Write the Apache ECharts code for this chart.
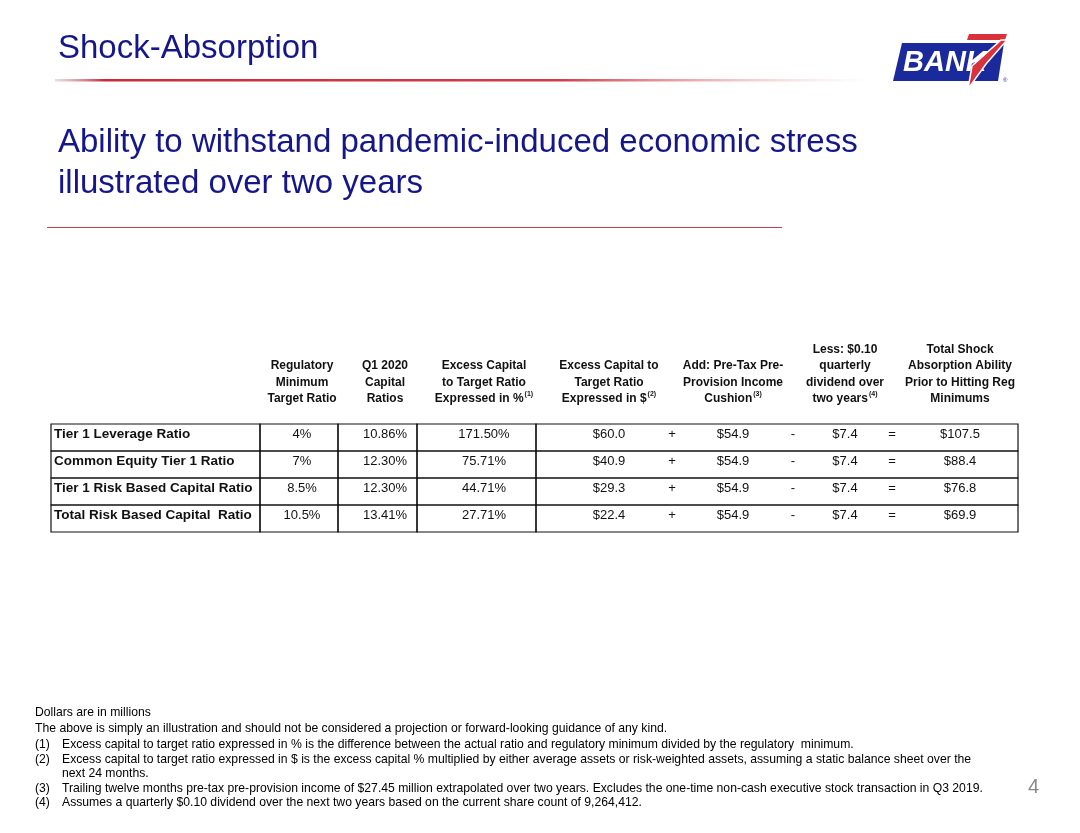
<!DOCTYPE html>
<html lang="en">
<head>
    <meta charset="UTF-8">
    <title>Shock-Absorption</title>
    <style>
        html, body { margin: 0; padding: 0; background: #fff; }
        #main { width: 1080px; height: 833px; }
    </style>
</head>
<body>
<div id="main"></div>
<script src="https://cdn.jsdelivr.net/npm/echarts@6/dist/echarts.min.js"></script>
<script>
    // table data
    const rowLabels = ['Tier 1 Leverage Ratio', 'Common Equity Tier 1 Ratio', 'Tier 1 Risk Based Capital Ratio', 'Total Risk Based Capital  Ratio'];
    const regMinimum = ['4%', '7%', '8.5%', '10.5%'];
    const q1Ratios = ['10.86%', '12.30%', '12.30%', '13.41%'];
    const excessPct = ['171.50%', '75.71%', '44.71%', '27.71%'];
    const excessDollar = [60.0, 40.9, 29.3, 22.4];
    const pretaxCushion = [54.9, 54.9, 54.9, 54.9];
    const dividendCost = [7.4, 7.4, 7.4, 7.4];
    const totalShock = [107.5, 88.4, 76.8, 69.9];

    // column headers (column index -> text), {s|..} = footnote mark
    const headerCols = [1, 2, 3, 4, 6, 8, 10];
    const headerTexts = [
        'Regulatory\nMinimum\nTarget Ratio',
        'Q1 2020\nCapital\nRatios',
        'Excess Capital\nto Target Ratio\nExpressed in %{s|(1)}',
        'Excess Capital to\nTarget Ratio\nExpressed in ${s|(2)}',
        'Add: Pre-Tax Pre-\nProvision Income\nCushion{s|(3)}',
        'Less: $0.10\nquarterly\ndividend over\ntwo years{s|(4)}',
        'Total Shock\nAbsorption Ability\nPrior to Hitting Reg\nMinimums'
    ];

    const footnotes = [
        ['', 'Dollars are in millions'],
        ['', 'The above is simply an illustration and should not be considered a projection or forward-looking guidance of any kind.'],
        ['(1)', 'Excess capital to target ratio expressed in % is the difference between the actual ratio and regulatory minimum divided by the regulatory  minimum.'],
        ['(2)', 'Excess capital to target ratio expressed in $ is the excess capital % multiplied by either average assets or risk-weighted assets, assuming a static balance sheet over the'],
        ['', 'next 24 months.'],
        ['(3)', 'Trailing twelve months pre-tax pre-provision income of $27.45 million extrapolated over two years. Excludes the one-time non-cash executive stock transaction in Q3 2019.'],
        ['(4)', 'Assumes a quarterly $0.10 dividend over the next two years based on the current share count of 9,264,412.']
    ];

    // layout (px from table left edge)
    const tableWidth = 967;
    const colEdges = [0, 209, 287, 366, 485, 967];
    const textX = [3, 251, 334, 433, 558, 621, 682, 742, 794, 841, 909];
    const FONT = 'Liberation Sans, Arial, sans-serif';
    const NAVY = '#15168a';

    // build cell list
    let cells = [];
    let cellTexts = [];
    function money(v) { return '$' + v.toFixed(1); }
    for (let i = 0; i < rowLabels.length; i++) {
        let row = [rowLabels[i], regMinimum[i], q1Ratios[i], excessPct[i], money(excessDollar[i]), '+',
            money(pretaxCushion[i]), '-', money(dividendCost[i]), '=', money(totalShock[i])];
        for (let c = 0; c < row.length; c++) {
            cells.push([c, i]);
            cellTexts.push(row[c]);
        }
    }

    let chart = echarts.init(document.getElementById('main'));

    // footnote graphics
    let noteEls = [];
    footnotes.forEach(function (f, i) {
        let y = [713, 729, 745, 760, 774, 789, 803][i];
        if (f[0]) {
            noteEls.push({type: 'text', x: 35, y: y, style: {text: f[0], font: '12.2px ' + FONT, fill: '#000', textVerticalAlign: 'middle', verticalAlign: 'middle'}});
        }
        noteEls.push({type: 'text', x: f[0] || i === 4 ? 62 : 35, y: y, style: {text: f[1], font: '12.2px ' + FONT, fill: '#000', textVerticalAlign: 'middle', verticalAlign: 'middle'}});
    });

    let option = {
        animation: false,
        backgroundColor: '#fff',
        grid: {left: 51, top: 424, width: tableWidth, height: 108},
        xAxis: {type: 'value', min: 0, max: tableWidth, show: false},
        yAxis: {type: 'category', data: rowLabels, inverse: true, show: false},
        graphic: [
            {type: 'text', x: 58, y: 49, style: {text: 'Shock-Absorption', font: '33px ' + FONT, fill: NAVY, textVerticalAlign: 'middle', verticalAlign: 'middle'}},
            {
                type: 'rect', shape: {x: 55, y: 79, width: 815, height: 2.5},
                style: {
                    fill: new echarts.graphic.LinearGradient(0, 0, 1, 0, [
                        {offset: 0, color: 'rgba(200,170,175,0.4)'},
                        {offset: 0.06, color: '#c82c39'},
                        {offset: 0.62, color: '#d23d48'},
                        {offset: 1, color: 'rgba(235,170,170,0)'}
                    ])
                }
            },
            {type: 'text', x: 58, y: 143, style: {text: 'Ability to withstand pandemic-induced economic stress', font: '33px ' + FONT, fill: NAVY, textVerticalAlign: 'middle', verticalAlign: 'middle'}},
            {type: 'text', x: 58, y: 184, style: {text: 'illustrated over two years', font: '33px ' + FONT, fill: NAVY, textVerticalAlign: 'middle', verticalAlign: 'middle'}},
            {type: 'rect', shape: {x: 47, y: 227, width: 735, height: 1}, style: {fill: '#c4404d'}},
            // logo
            {type: 'polygon', shape: {points: [[902, 43], [1004, 43], [998, 81], [893, 81]]}, style: {fill: '#1a2a9c'}},
            {type: 'text', x: 903, y: 63, style: {text: 'BANK', font: 'italic bold 29px ' + FONT, fill: '#fff', textVerticalAlign: 'middle', verticalAlign: 'middle'}},
            {type: 'polygon', shape: {points: [[969, 34], [1007, 34], [1005, 40], [967, 40]]}, style: {fill: '#d9323c'}},
            {type: 'polygon', shape: {points: [[1001, 40], [1007, 40], [986, 64], [968, 89], [972, 66]]}, style: {fill: '#d9323c', stroke: '#fff', lineWidth: 1.5}},
            {type: 'text', x: 1003, y: 77, style: {text: '®', font: '6px ' + FONT, fill: '#1a2a9c'}},
            {type: 'text', x: 1028, y: 787, style: {text: '4', font: '20px ' + FONT, fill: '#888', textVerticalAlign: 'middle', verticalAlign: 'middle'}}
        ].concat(noteEls),
        series: [
            {
                // cell borders
                type: 'custom',
                silent: true,
                data: rowLabels.map(function (d, i) { return [0, i]; }),
                renderItem: function (params, api) {
                    let row = api.value(1);
                    let band = api.size([0, 1])[1];
                    let children = [];
                    for (let k = 0; k < colEdges.length - 1; k++) {
                        let a = api.coord([colEdges[k], row]);
                        let b = api.coord([colEdges[k + 1], row]);
                        children.push({
                            type: 'rect',
                            shape: {x: a[0], y: a[1] - band / 2, width: b[0] - a[0], height: band},
                            style: {fill: 'none', stroke: '#111', lineWidth: 1.2}
                        });
                    }
                    return {type: 'group', children: children};
                }
            },
            {
                // headers
                type: 'custom',
                silent: true,
                data: headerCols.map(function (c) { return [c, 0]; }),
                renderItem: function (params, api) {
                    let col = api.value(0);
                    let band = api.size([0, 1])[1];
                    let p = api.coord([textX[col], 0]);
                    return {
                        type: 'text',
                        style: {
                            x: p[0], y: p[1] - band / 2 - 17,
                            text: headerTexts[params.dataIndex],
                            font: 'bold 12px ' + FONT,
                            fill: '#111',
                            lineHeight: 16.5,
                            align: 'center', textAlign: 'center',
                            verticalAlign: 'bottom', textVerticalAlign: 'bottom',
                            rich: {
                                s: {fontSize: 7, fontWeight: 'bold', fontFamily: FONT, verticalAlign: 'top', lineHeight: 16.5, padding: [0, 0, 6, 1]}
                            }
                        }
                    };
                }
            },
            {
                // cell values
                type: 'custom',
                silent: true,
                data: cells,
                renderItem: function (params, api) {
                    let col = api.value(0), row = api.value(1);
                    let p = api.coord([textX[col], row]);
                    let isLabel = col === 0;
                    return {
                        type: 'text',
                        style: {
                            x: p[0], y: p[1] - 3,
                            text: cellTexts[params.dataIndex],
                            font: (isLabel ? 'bold 13.5px ' : '13px ') + FONT,
                            fill: '#111',
                            align: isLabel ? 'left' : 'center', textAlign: isLabel ? 'left' : 'center',
                            verticalAlign: 'middle', textVerticalAlign: 'middle'
                        }
                    };
                }
            }
        ]
    };
    chart.setOption(option);
</script>
</body>
</html>
